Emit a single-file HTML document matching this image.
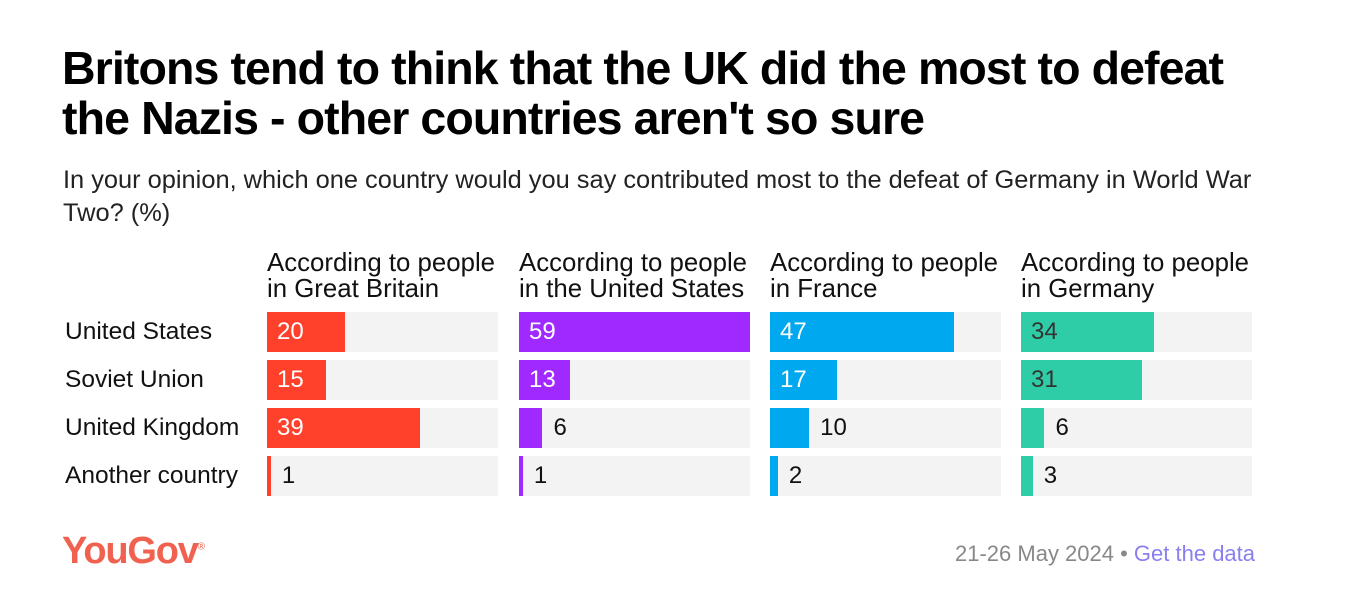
<!DOCTYPE html>
<html><head><meta charset="utf-8"><style>
body{margin:0;width:1364px;height:602px;background:#fff;font-family:"Liberation Sans",sans-serif;color:#111;position:relative;overflow:hidden}
.abs{position:absolute}
#title{left:62px;top:43px;font-size:46.5px;font-weight:bold;line-height:50px;letter-spacing:-0.9px;color:#000;white-space:nowrap}
#sub{left:63px;top:164px;font-size:25.4px;line-height:33px;color:#222;white-space:nowrap}
.ph{font-size:25.8px;line-height:26px;color:#111;white-space:nowrap}
.rl{font-size:24.5px;color:#111;left:65px}
.val{font-size:24px;line-height:40px}
#logo{left:62px;top:530px;font-size:38px;font-weight:bold;color:#f0624f;letter-spacing:-1.2px}
#foot{left:955px;top:541px;font-size:22px;color:#888;white-space:nowrap}
</style></head><body>
<div id="title" class="abs">Britons tend to think that the UK did the most to defeat<br>the Nazis - other countries aren't so sure</div>
<div id="sub" class="abs">In your opinion, which one country would you say contributed most to the defeat of Germany in World War<br>Two? (%)</div>
<div id="chart"></div>
<div id="logo" class="abs">YouGov<sup style="font-size:10px;font-weight:normal">®</sup></div>
<div id="foot" class="abs">21-26 May 2024 • <span style="color:#8a7ff0">Get the data</span></div>
<script>
const categories=["United States","Soviet Union","United Kingdom","Another country"];
const panels=["According to people<br>in Great Britain","According to people<br>in the United States","According to people<br>in France","According to people<br>in Germany"];
const gb=[20,15,39,1];
const us=[59,13,6,1];
const fr=[47,17,10,2];
const de=[34,31,6,3];
const series=[gb,us,fr,de];
const colors=["#ff412c","#9f29ff","#00a8f0","#2fcca8"];
const textIn=["#fff","#fff","#fff","#333"];
const maxV=59,panelW=231,panelX=[267,519,770,1021],rowY=[312,360,408,456],barH=40;
const x=v=>Math.max(3,v/maxV*panelW);
const root=document.getElementById('chart');
function mk(cls,css,html){const d=document.createElement('div');d.className='abs '+cls;d.style.cssText=css;d.innerHTML=html||'';root.appendChild(d);return d;}
categories.forEach((c,i)=>{
  const d=mk('rl','top:'+rowY[i]+'px;line-height:40px',c);
  
  
});
panels.forEach((p,j)=>{
  const h=mk('ph','left:'+panelX[j]+'px;top:250px',p);
  
  
  series[j].forEach((v,i)=>{
    const bg=mk('','left:'+panelX[j]+'px;top:'+rowY[i]+'px;width:'+panelW+'px;height:'+barH+'px;background:#f3f3f3');
    
    
    const w=x(v);
    const b=mk('','left:'+panelX[j]+'px;top:'+rowY[i]+'px;width:'+w+'px;height:'+barH+'px;background:'+colors[j]);
    
    
    const inside=w>40;
    const t=mk('val','top:'+rowY[i]+'px;left:'+(inside?panelX[j]+10:panelX[j]+w+11)+'px;color:'+(inside?textIn[j]:'#111'),String(v));
    
    
  });
});
</script>
</body></html>
